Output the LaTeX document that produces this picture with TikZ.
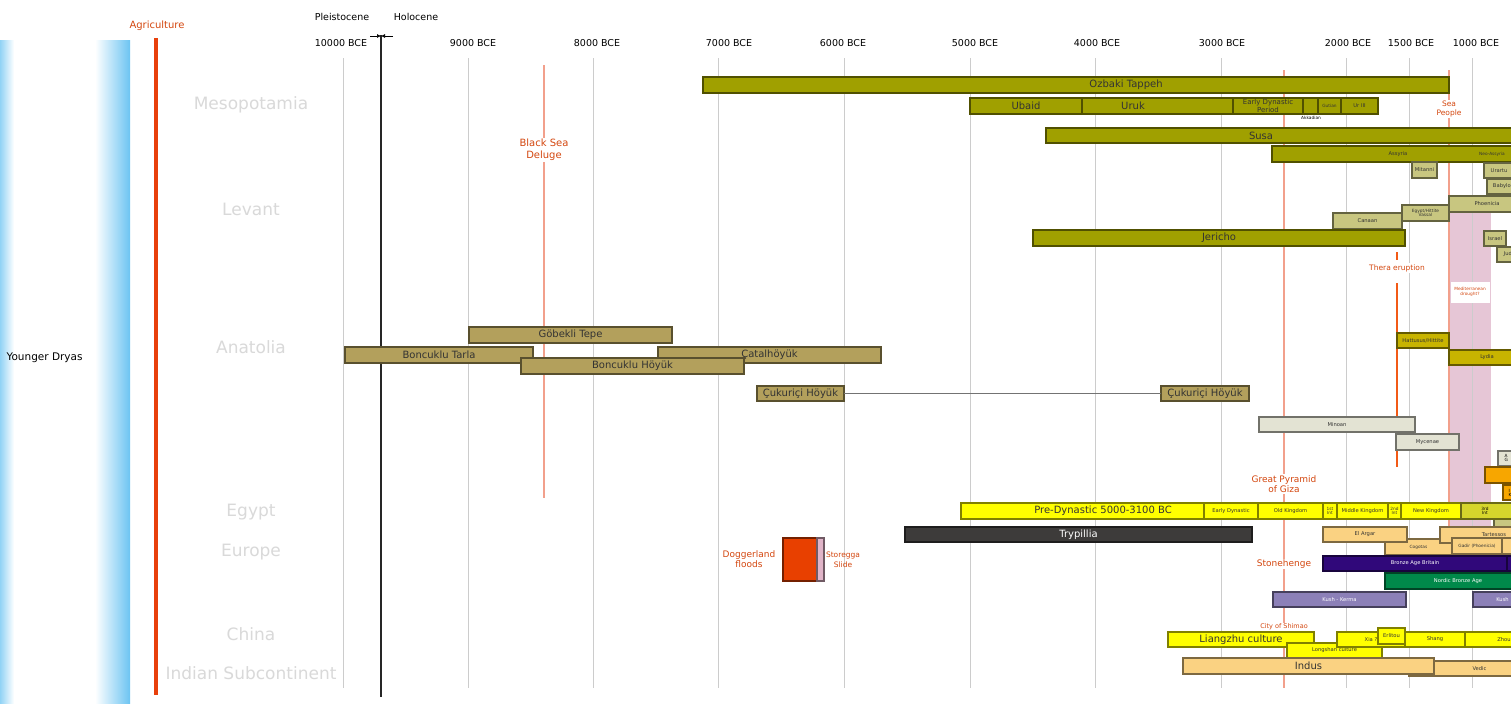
\documentclass[tikz,border=0pt]{standalone}
\usepackage{fontspec}
\setmainfont{DejaVu Sans}
\usepackage{xcolor}
\usetikzlibrary{arrows.meta}
\definecolor{mesoolive}{HTML}{A0A000}
\definecolor{levantolive}{HTML}{C8C680}
\definecolor{anatan}{HTML}{B3A05C}
\definecolor{hittgold}{HTML}{C8B400}
\definecolor{aegeangrey}{HTML}{E3E3D3}
\definecolor{egyptyellow}{HTML}{FFFF00}
\definecolor{egyptint}{HTML}{D6D62C}
\definecolor{iberiaorange}{HTML}{FAD282}
\definecolor{trypgrey}{HTML}{3D3B3A}
\definecolor{britpurple}{HTML}{30087A}
\definecolor{nordicgreen}{HTML}{00894A}
\definecolor{kushlilac}{HTML}{8C80B8}
\definecolor{lydiaorange}{HTML}{F7A600}
\definecolor{doggerred}{HTML}{E84000}
\definecolor{storeggapink}{HTML}{E0B4C8}
\definecolor{droughtpink}{HTML}{E6C6D6}
\definecolor{notered}{HTML}{D4470F}
\definecolor{agrired}{HTML}{E8400C}
\definecolor{theraorange}{HTML}{F25A16}
\definecolor{eventline}{HTML}{F2A08C}
\definecolor{regiongrey}{HTML}{D9D9D9}
\definecolor{gridgrey}{HTML}{CCCCCC}
\definecolor{dryasblue}{HTML}{6CC4F2}
\newcommand{\period}[7]{
  \node[#2, minimum width={(#4-#3)*1pt}, minimum height={(#6-#5)*1pt}] (#1) at (#3,#5) {#7};
}

\begin{document}
\begin{tikzpicture}[x=1pt, y=-1pt,
  bar/.style={draw=#1!50!black, fill=#1, line width=1.1pt, inner sep=0pt, outer sep=0pt,
              anchor=north west, align=center, text=black!80, font=\fontsize{10}{10}\selectfont},
  bartext/.style={text=black!80, font=\fontsize{10}{10}\selectfont},
  mid/.style={font=\fontsize{7}{6.5}\selectfont},
  sm/.style={font=\fontsize{5.2}{5.6}\selectfont},
  xs/.style={font=\fontsize{4.3}{4.6}\selectfont},
  note/.style={text=notered, align=center, fill=white, inner sep=1pt, font=\fontsize{9}{10.5}\selectfont},
  region/.style={text=regiongrey, font=\fontsize{17}{19}\selectfont},
  year/.style={font=\fontsize{9.5}{11}\selectfont},
  gridline/.style={gridgrey, line width=1pt},
  event/.style={eventline, line width=1.2pt},
  link/.style={black!55, line width=0.8pt}]
\clip (0,0) rectangle (1511,707);
\fill[white] (0,0) rectangle (1511,707);

% Younger Dryas and agriculture
\shade[left color=dryasblue!75, right color=white] (0,40) rectangle (14,703);
\shade[left color=white, right color=dryasblue] (95,40) rectangle (130,703);
\node[anchor=west, font=\fontsize{10.5}{12}\selectfont] (dryas) at (3,358) {Younger Dryas};
\draw[agrired, line width=3.5pt] (156,38) -- (156,695);
\node[text=notered, font=\fontsize{10}{12}\selectfont] (agri) at (157,26) {Agriculture};

% regions
\foreach \name/\ypos in {Mesopotamia/105, Levant/209, Anatolia/347, Egypt/512, Europe/552, China/634, Indian Subcontinent/673}
  \node[region] (reg\ypos) at (251,\ypos) {\name};

% drought band
\fill[droughtpink] (1449,195) rectangle (1491,527);

% year grid
\foreach \yr/\gx/\lx in {10000/343/341, 9000/468/473, 8000/593/597, 7000/718/729, 6000/844/843,
                         5000/970/975, 4000/1095/1097, 3000/1221/1222, 2000/1346/1348, 1500/1409/1411, 1000/1472/1476}{
  \draw[gridline] (\gx,58) -- (\gx,688);
  \node[year] (yr\yr) at (\lx,43) {\yr~BCE};
}

% Pleistocene / Holocene
\node[year] (pleist) at (342,17) {Pleistocene};
\node[year] (holo) at (416,17) {Holocene};
\draw[black!85, line width=2.8pt] (381,35) -- (381,697);
\coordinate (boundary) at (381,36);
\draw[black, line width=0.6pt, -{Latex[length=4pt,width=4pt]}] (370,36) -- (boundary);
\draw[black, line width=0.6pt, -{Latex[length=4pt,width=4pt]}] (393,36) -- (boundary);

% event lines
\draw[event] (544,65) -- (544,498);
\draw[event] (1284,70) -- (1284,688);
\draw[event] (1449,70) -- (1449,527);
\draw[theraorange, line width=2pt] (1397,252) -- (1397,260);
\draw[theraorange, line width=2pt] (1397,283) -- (1397,467);

% Mesopotamia
\period{ozbaki}{bar=mesoolive}{703}{1449}{77}{93}{}
\node[bartext] (ozbakilbl) at (1126,85) {Ozbaki Tappeh};
\period{ubaid}{bar=mesoolive}{970}{1082}{98}{114}{Ubaid}
\period{uruk}{bar=mesoolive}{1082}{1233}{98}{114}{}
\node[bartext] (uruklbl) at (1133,106) {Uruk};
\period{earlydyn}{bar=mesoolive, mid}{1233}{1303}{98}{114}{Early Dynastic\\Period}
\period{akkad}{bar=mesoolive}{1303}{1318}{98}{114}{}
\node[xs] (akkadlbl) at (1311,118) {Akkadian};
\period{gutian}{bar=mesoolive, xs}{1318}{1341}{98}{114}{Gutian}
\period{ur}{bar=mesoolive, sm}{1341}{1378}{98}{114}{Ur III}
\period{susa}{bar=mesoolive}{1046}{1525}{128}{143}{}
\node[bartext] (susalbl) at (1261,136) {Susa};
\period{assyria}{bar=mesoolive}{1272}{1525}{146}{162}{}
\node[sm, text=black!80] (assyrialbl) at (1398,154) {Assyria};
\node[xs, text=black!80] (neoassyria) at (1492,154) {Neo-Assyria};
\period{mitanni}{bar=levantolive, sm}{1412}{1437}{162}{178}{Mitanni}
\period{urartu}{bar=levantolive, sm}{1484}{1514}{163}{178}{Urartu}
\period{babylon}{bar=levantolive, sm}{1487}{1520}{179}{194}{Babylon}

% Levant
\period{phoenicia}{bar=levantolive, sm}{1449}{1525}{196}{212}{Phoenicia}
\period{vassal}{bar=levantolive, xs}{1402}{1449}{205}{221}{Egypt/Hittite\\Vassal}
\period{canaan}{bar=levantolive, sm}{1333}{1402}{213}{229}{Canaan}
\period{jericho}{bar=mesoolive}{1033}{1405}{230}{246}{Jericho}
\period{israel}{bar=levantolive, sm}{1484}{1506}{231}{246}{Israel}
\period{judah}{bar=levantolive, sm}{1497}{1525}{247}{262}{Judah}

% Anatolia and Aegean
\period{gobekli}{bar=anatan}{469}{672}{327}{343}{Göbekli Tepe}
\period{tarla}{bar=anatan}{345}{533}{347}{363}{Boncuklu Tarla}
\period{catal}{bar=anatan}{658}{881}{347}{363}{Çatalhöyük}
\period{hoyuk}{bar=anatan}{521}{744}{358}{374}{Boncuklu Höyük}
\period{cuk1}{bar=anatan}{757}{844}{386}{401}{Çukuriçi Höyük}
\period{cuk2}{bar=anatan}{1161}{1249}{386}{401}{Çukuriçi Höyük}
\draw[link] (cuk1) -- (cuk2);
\period{hattusa}{bar=hittgold, sm}{1397}{1449}{333}{348}{Hattusus/Hittite}
\period{lydia}{bar=hittgold, sm}{1449}{1525}{350}{365}{Lydia}
\period{minoan}{bar=aegeangrey, sm}{1259}{1415}{417}{432}{Minoan}
\period{mycenae}{bar=aegeangrey, sm}{1396}{1459}{434}{450}{Mycenae}
\period{archaic}{bar=aegeangrey}{1498}{1525}{451}{466}{}
\node[xs, anchor=west, align=left] (archaiclbl) at (1501,458) {A\\G};
\period{orange1}{bar=lydiaorange}{1485}{1525}{467}{483}{}
\period{orange2}{bar=lydiaorange}{1503}{1525}{485}{500}{}
\node[xs, anchor=west, align=left] (orange2lbl) at (1505,493) {I\\K};

% Egypt
\period{predyn}{bar=egyptyellow}{961}{1204}{503}{519}{}
\node[bartext] (predynlbl) at (1103,511) {Pre-Dynastic 5000-3100 BC};
\period{edyn}{bar=egyptyellow, sm}{1204}{1258}{503}{519}{Early Dynastic}
\period{oldk}{bar=egyptyellow, sm}{1258}{1323}{503}{519}{Old Kingdom}
\period{int1}{bar=egyptyellow, xs}{1323}{1337}{503}{519}{1st\\Int}
\period{midk}{bar=egyptyellow, sm}{1337}{1388}{503}{519}{Middle Kingdom}
\period{int2}{bar=egyptyellow, xs}{1388}{1401}{503}{519}{2nd\\Int}
\period{newk}{bar=egyptyellow, sm}{1401}{1461}{503}{519}{New Kingdom}
\period{late}{bar=levantolive}{1494}{1525}{516}{528}{}
\period{int3}{bar=egyptint}{1461}{1525}{503}{519}{}
\node[xs, align=center] (int3lbl) at (1485,511) {3rd\\Int};

% Europe
\period{trypillia}{bar=trypgrey, text=white}{905}{1252}{527}{542}{Trypillia}
\period{dogger}{bar=doggerred}{783}{817}{538}{581}{}
\period{storegga}{bar=storeggapink}{817}{824}{538}{581}{}
\node[note, fill=none] (doggerlbl) at (749,559) {Doggerland\\floods};
\node[note, fill=none, font=\fontsize{7.5}{9.5}\selectfont] (storeggalbl) at (843,560) {Storegga\\Slide};
\period{cogotas}{bar=iberiaorange, xs}{1385}{1452}{539}{555}{Cogotas}
\period{elargar}{bar=iberiaorange, sm}{1323}{1407}{527}{542}{El Argar}
\period{tartessos}{bar=iberiaorange, sm}{1440}{1548}{527}{543}{Tartessos}
\period{gadir}{bar=iberiaorange, xs}{1452}{1502}{538}{554}{Gadir (Phoenicia)}
\period{iberia}{bar=iberiaorange}{1502}{1525}{538}{554}{}
\period{britain}{bar=britpurple, sm, text=white}{1323}{1507}{556}{571}{Bronze Age Britain}
\period{britain2}{bar=britpurple}{1507}{1525}{556}{571}{}
\period{nordic}{bar=nordicgreen, sm, text=white}{1385}{1531}{573}{589}{Nordic Bronze Age}
\period{kerma}{bar=kushlilac, sm, text=white}{1273}{1406}{592}{607}{Kush - Kerma}
\period{kush}{bar=kushlilac, sm, text=white}{1473}{1532}{592}{607}{Kush}

% China
\period{liangzhu}{bar=egyptyellow}{1168}{1314}{632}{647}{Liangzhu culture}
\period{longshan}{bar=egyptyellow, sm}{1287}{1382}{643}{658}{Longshan culture}
\period{xia}{bar=egyptyellow, sm}{1337}{1405}{632}{647}{Xia ?}
\period{shang}{bar=egyptyellow, sm}{1405}{1465}{632}{647}{Shang}
\period{zhou}{bar=egyptyellow, sm}{1465}{1543}{632}{647}{Zhou}
\period{erlitou}{bar=egyptyellow, sm}{1378}{1405}{628}{644}{Erlitou}

% Indian Subcontinent
\period{vedic}{bar=iberiaorange, sm}{1409}{1550}{661}{676}{Vedic}
\period{indus}{bar=iberiaorange}{1183}{1434}{658}{674}{Indus}

% event labels
\node[note, font=\fontsize{10}{12}\selectfont] (deluge) at (544,150) {Black Sea\\Deluge};
\node[note, font=\fontsize{7.5}{9.5}\selectfont] (seapeople) at (1449,109) {Sea\\People};
\node[note, font=\fontsize{7.5}{9}\selectfont] (thera) at (1397,268) {Thera eruption};
\node[note, inner sep=3pt, minimum width=39pt, minimum height=21pt, font=\fontsize{4.3}{5}\selectfont] (drought) at (1470,292) {Mediterranean\\drought?};
\node[note] (giza) at (1284,484) {Great Pyramid\\of Giza};
\node[note] (stonehenge) at (1284,564) {Stonehenge};
\node[note, font=\fontsize{6.5}{8}\selectfont] (shimao) at (1284,627) {City of Shimao};
\end{tikzpicture}
\end{document}
